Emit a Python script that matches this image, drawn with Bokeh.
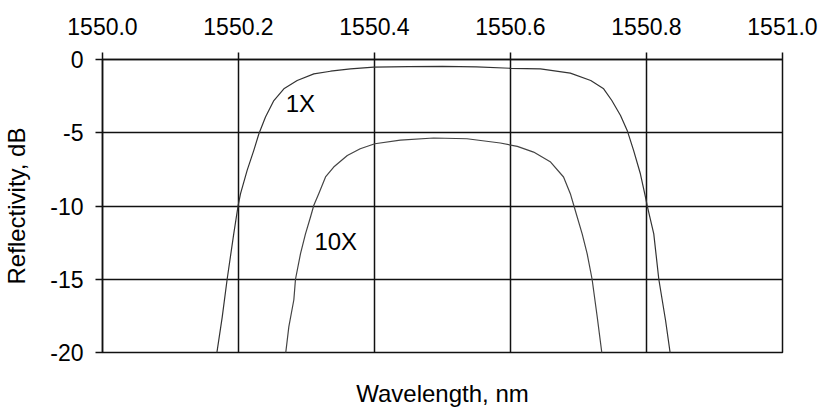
from bokeh.plotting import figure
from bokeh.models import FixedTicker, PrintfTickFormatter, LinearAxis, Label
from bokeh.embed import file_html
from bokeh.resources import INLINE

# ---- data ----
x_ticks = [1550.0, 1550.2, 1550.4, 1550.6, 1550.8, 1551.0]
y_ticks = [-20, -15, -10, -5, 0]

wl_1x = [1550.1676, 1550.176, 1550.1833, 1550.193, 1550.1995, 1550.203, 1550.2127,
         1550.2225, 1550.230, 1550.2397, 1550.252, 1550.2667, 1550.2863, 1550.3108,
         1550.3353, 1550.3647, 1550.399, 1550.45, 1550.50, 1550.55, 1550.60, 1550.644,
         1550.688, 1550.718, 1550.737, 1550.749, 1550.7618, 1550.7716, 1550.781,
         1550.791, 1550.7985, 1550.8009, 1550.8107, 1550.8181, 1550.828, 1550.8353]
r_1x = [-20.2, -17.6, -15.0, -11.9, -9.95, -9.16, -7.57,
        -6.2, -5.07, -3.93, -2.8, -2.0, -1.43, -0.98,
        -0.8, -0.64, -0.52, -0.48, -0.47, -0.5, -0.6, -0.64,
        -0.93, -1.43, -2.0, -2.8, -3.82, -4.84, -6.2,
        -7.8, -9.39, -9.95, -11.9, -15.0, -17.8, -20.2]

wl_10x = [1550.269, 1550.274, 1550.2814, 1550.2838, 1550.2912, 1550.2985, 1550.3059,
          1550.3108, 1550.318, 1550.328, 1550.34, 1550.36, 1550.379, 1550.4005,
          1550.438, 1550.487, 1550.536, 1550.585, 1550.61, 1550.634, 1550.659,
          1550.678, 1550.688, 1550.693, 1550.7054, 1550.7127, 1550.72, 1550.7275,
          1550.7348]
r_10x = [-20.2, -18.25, -16.4, -15.0, -13.25, -11.9, -10.75,
         -9.95, -9.16, -8.02, -7.34, -6.55, -6.09, -5.75,
         -5.5, -5.36, -5.41, -5.7, -5.93, -6.32, -7.0,
         -8.02, -9.16, -9.95, -11.9, -13.25, -15.0, -17.56,
         -20.2]

label_text = ["1X", "10X"]
label_x = [1550.291, 1550.343]
label_y = [-3.02, -12.45]

FONT = "Liberation Sans"

p = figure(width=818, height=410, x_range=(1550.0, 1551.0), y_range=(-20, 0),
           x_axis_location="above", output_backend="svg", toolbar_location=None,
           min_border_left=102, min_border_right=36, min_border_top=59, min_border_bottom=58)
p.background_fill_color = "white"
p.border_fill_color = "white"
p.outline_line_color = "#111111"
p.outline_line_width = 1.5

# top axis
xa = p.xaxis[0]
xa.ticker = FixedTicker(ticks=x_ticks)
xa.formatter = PrintfTickFormatter(format="%.1f")
xa.major_tick_out = 7
xa.major_tick_in = 0
xa.minor_tick_out = 0
xa.minor_tick_in = 0
xa.major_tick_line_color = "#111111"
xa.major_tick_line_width = 1.5
xa.axis_line_color = "#111111"
xa.axis_line_width = 1.5
xa.major_label_standoff = 18
xa.major_label_text_font = FONT
xa.major_label_text_font_size = "23px"
xa.major_label_text_color = "black"

# left axis
ya = p.yaxis[0]
ya.ticker = FixedTicker(ticks=y_ticks)
ya.formatter = PrintfTickFormatter(format="%d")
ya.major_tick_out = 7
ya.major_tick_in = 0
ya.minor_tick_out = 0
ya.minor_tick_in = 0
ya.major_tick_line_color = "#111111"
ya.major_tick_line_width = 1.5
ya.axis_line_color = "#111111"
ya.axis_line_width = 1.5
ya.major_label_standoff = 12
ya.major_label_text_font = FONT
ya.major_label_text_font_size = "23px"
ya.major_label_text_color = "black"
ya.axis_label = "Reflectivity, dB"
ya.axis_label_text_font = FONT
ya.axis_label_text_font_size = "24px"
ya.axis_label_text_font_style = "normal"
ya.axis_label_text_color = "black"
ya.axis_label_standoff = 17

# bottom axis used only for the x label
bx = LinearAxis(axis_label="Wavelength, nm")
bx.ticker = FixedTicker(ticks=[])
bx.major_tick_out = 0
bx.major_tick_in = 0
bx.minor_tick_out = 0
bx.minor_tick_in = 0
bx.axis_line_color = None
bx.major_label_text_font_size = "0px"
bx.major_label_standoff = 0
bx.axis_label_text_font = FONT
bx.axis_label_text_font_size = "24px"
bx.axis_label_text_font_style = "normal"
bx.axis_label_text_color = "black"
bx.axis_label_standoff = 27
p.add_layout(bx, "below")

# grid
p.xgrid.ticker = FixedTicker(ticks=x_ticks)
p.ygrid.ticker = FixedTicker(ticks=y_ticks)
for g in (p.xgrid, p.ygrid):
    g.grid_line_color = "#111111"
    g.grid_line_width = 1.5

# curves
p.line(wl_1x, r_1x, line_color="#333333", line_width=1.2)
p.line(wl_10x, r_10x, line_color="#444444", line_width=1.2)

for t, lx, ly in zip(label_text, label_x, label_y):
    p.add_layout(Label(x=lx, y=ly, text=t, text_font=FONT, text_font_size="24px",
                       text_align="center", text_baseline="middle", text_color="black"))

open("out.html", "w").write(file_html(p, INLINE))
